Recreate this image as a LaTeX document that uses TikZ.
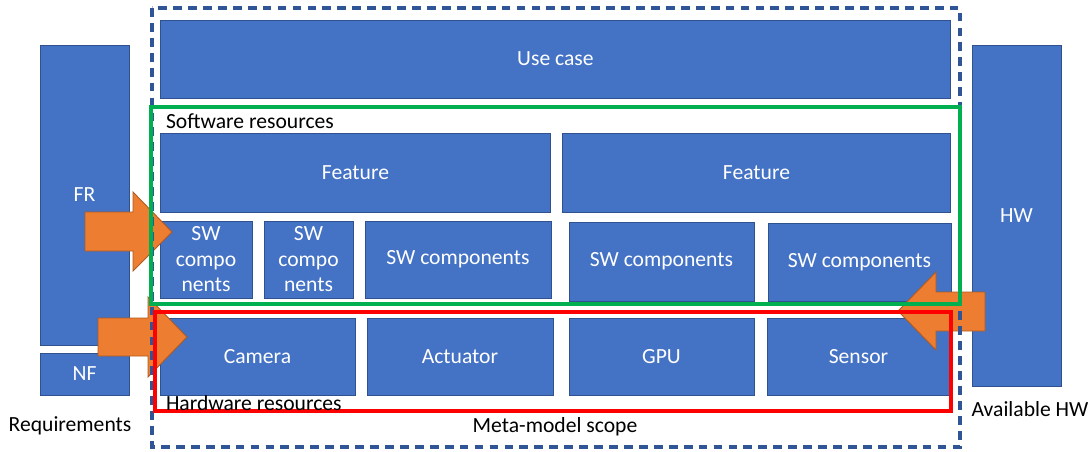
\documentclass[tikz,border=0pt]{standalone}
\usepackage{fontspec}
\setmainfont{Carlito}
\usepackage{tikz}

\definecolor{boxblue}{HTML}{4472C4}
\definecolor{boxedge}{HTML}{2F528F}
\definecolor{scopeblue}{HTML}{2F5597}
\definecolor{arroworange}{HTML}{ED7D31}
\definecolor{arrowedge}{HTML}{AE5A21}
\definecolor{swgreen}{HTML}{00B050}
\definecolor{hwred}{HTML}{FF0000}

\begin{document}
\begin{tikzpicture}[x=0.02cm, y=-0.02cm, inner sep=0pt, outer sep=0pt,
    every node/.style={font=\fontsize{12.3}{14.5}\selectfont},
    blk/.style={anchor=north west, fill=boxblue, draw=boxedge, line width=0.5pt,
        text=white, align=center},
    frameline/.style={line width=2.1pt},
    blockarrow/.style={fill=arroworange, draw=arrowedge, line width=0.5pt, line join=miter},
    lbl/.style={text=black}]
    \useasboundingbox (0,0) rectangle (1091,451);

    % requirements and available hardware
    \node[blk, minimum width=1.78cm, minimum height=6.00cm] (fr) at (40,45) {FR};
    \node[blk, minimum width=1.78cm, minimum height=0.84cm] (nf) at (40,353) {NF};
    \node[blk, minimum width=1.78cm, minimum height=6.82cm] (hw) at (972,45) {HW};

    % use case
    \node[blk, minimum width=15.82cm, minimum height=1.56cm] (usecase) at (160,20) {Use case};

    % software resources
    \node[blk, minimum width=7.82cm, minimum height=1.58cm] (feat_a) at (160,133) {Feature};
    \node[blk, minimum width=7.78cm, minimum height=1.58cm] (feat_b) at (562,133) {Feature};
    \node[blk, minimum width=1.84cm, minimum height=1.54cm] (sw_a) at (160,221) {SW\\compo\\nents};
    \node[blk, minimum width=1.78cm, minimum height=1.54cm] (sw_b) at (264,221) {SW\\compo\\nents};
    \node[blk, minimum width=3.72cm, minimum height=1.54cm] (sw_c) at (365,221) {SW components};
    \node[blk, minimum width=3.70cm, minimum height=1.58cm] (sw_d) at (569,222) {SW components};
    \node[blk, minimum width=3.66cm, minimum height=1.56cm] (sw_e) at (768,223) {SW components};

    % hardware resources
    \node[blk, minimum width=3.90cm, minimum height=1.54cm] (camera) at (160,318) {Camera};
    \node[blk, minimum width=3.72cm, minimum height=1.54cm] (actuator) at (367,318) {Actuator};
    \node[blk, minimum width=3.70cm, minimum height=1.54cm] (gpu) at (569,318) {GPU};
    \node[blk, minimum width=3.66cm, minimum height=1.54cm] (sensor) at (767,318) {Sensor};

    % orange block arrows
    \draw[blockarrow] (85,212) -- (133,212) -- (133,192) -- (172,232) -- (133,271) -- (133,251) -- (85,251) -- cycle;
    \draw[blockarrow] (98,318) -- (148,318) -- (148,297) -- (187,337) -- (148,377) -- (148,356) -- (98,356) -- cycle;
    \draw[blockarrow] (985,292) -- (936,292) -- (936,272) -- (898,311) -- (936,350) -- (936,331) -- (985,331) -- cycle;

    % frames
    \draw[frameline, scopeblue, dash pattern=on 5pt off 3.5pt] (152,8) rectangle (960,447);
    \draw[frameline, swgreen] (151,107) rectangle (960,304);
    \draw[frameline, hwred] (155,312) rectangle (951,411);

    % labels
    \node[lbl, anchor=west] (sw_lbl) at (166,121) {Software resources};
    \node[lbl, anchor=west] (hw_lbl) at (166,403) {Hardware resources};
    \node[lbl] (scope_lbl) at (555,427) {Meta-model scope};
    \node[lbl] (req_lbl) at (70,426) {Requirements};
    \node[lbl] (avail_lbl) at (1030,409) {Available HW};

\end{tikzpicture}
\end{document}
